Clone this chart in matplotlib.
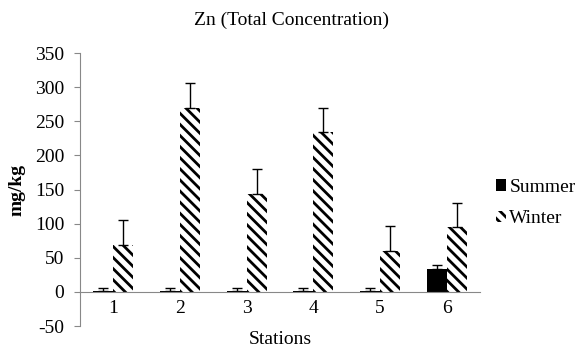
import matplotlib.pyplot as plt
import numpy as np

plt.rcParams['font.family'] = ['Liberation Serif', 'DejaVu Serif']
plt.rcParams['hatch.linewidth'] = 2.0
plt.rcParams['axes.unicode_minus'] = False

# Data
stations = ['1', '2', '3', '4', '5', '6']
summer = [2, 2, 2, 2, 2, 34]
summer_err = [3, 3, 3, 3, 3, 6]
winter = [68, 270, 144, 234, 60, 95]
winter_err = [37, 36, 36, 36, 37, 36]

fig = plt.figure(figsize=(5.82, 3.47), dpi=100)
ax = fig.add_axes([0.137, 0.0605, 0.688, 0.7865])

x = np.arange(len(stations))
width = 0.3

zeros = [0] * len(stations)
ax.bar(x - width / 2, summer, width, color='black', label='Summer',
       yerr=[zeros, summer_err], capsize=3.5,
       error_kw={'elinewidth': 1, 'capthick': 1, 'ecolor': 'black'})
ax.bar(x + width / 2, winter, width, color='white', edgecolor='black',
       linewidth=0, hatch='\\\\\\', label='Winter',
       yerr=[zeros, winter_err], capsize=3.5,
       error_kw={'elinewidth': 1, 'capthick': 1, 'ecolor': 'black'})

ax.set_xlim(-0.5, len(stations) - 0.5)
ax.set_ylim(-50, 350)
ax.set_yticks(np.arange(-50, 351, 50))

ax.spines['top'].set_visible(False)
ax.spines['right'].set_visible(False)
ax.spines['bottom'].set_position(('data', 0))
ax.spines['bottom'].set_color('#888888')
ax.spines['left'].set_color('#888888')

ax.set_xticks(x)
ax.set_xticklabels(stations)
ax.tick_params(axis='x', length=0, pad=6, labelsize=14)
ax.tick_params(axis='y', length=4, color='#888888', labelsize=14, pad=7)

ax.set_ylabel('mg/kg', fontsize=14, fontweight='bold')
ax.set_xlabel('Stations', fontsize=14)
ax.xaxis.label.set_va('center')
ax.xaxis.set_label_coords(0.5, -0.048)
ax.yaxis.set_label_coords(-0.135, 0.5)

fig.text(0.5, 0.942, 'Zn (Total Concentration)', ha='center', va='center',
         fontsize=14)

ax.legend(loc='center left', bbox_to_anchor=(0.995, 0.45), frameon=False,
          fontsize=14, handlelength=0.55, handleheight=0.55,
          handletextpad=0.15, labelspacing=0.75)

plt.savefig('out.png', dpi=100)
